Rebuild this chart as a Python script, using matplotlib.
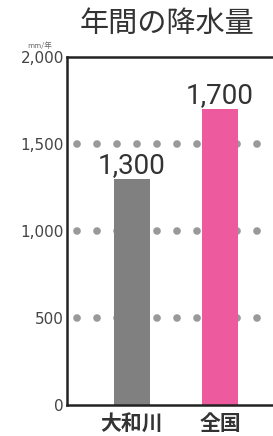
import matplotlib
matplotlib.use('Agg')
import matplotlib.pyplot as plt

plt.rcParams['font.family'] = ['Noto Sans CJK JP', 'DejaVu Sans']
plt.rcParams['lines.scale_dashes'] = False

# データ
basyo = ['大和川', '全国']
kousui = [1300, 1700]
iro = ['#808080', '#ee5a9e']
yticks = [0, 500, 1000, 1500, 2000]
ylabels = ['0', '500', '1,000', '1,500', '2,000']

fig = plt.figure(figsize=(2.73, 4.36), dpi=100)
ax = fig.add_axes([0.245, 0.0711, 0.755, 0.798])

x = list(range(len(basyo)))

# 点線のグリッド
for yy in yticks[1:-1]:
    ax.axhline(yy, color='#999999', lw=5.5, linestyle=(7.2, (0.05, 14.35)),
               dash_capstyle='round', zorder=1)

ax.bar(x, kousui, width=0.41, color=iro, zorder=2)

for xi, v in zip(x, kousui):
    ax.text(xi, v + 35, f'{v:,}', ha='center', va='baseline', fontsize=20,
            family='Roboto', color='#333333', zorder=3)

ax.set_xlim(-0.74, 1.6)
ax.set_ylim(0, 2000)
ax.set_yticks(yticks)
ax.set_yticklabels(ylabels, family='DejaVu Sans', fontsize=11, color='#444444')
ax.set_xticks(x)
ax.set_xticklabels(basyo, fontsize=15, fontweight='bold', color='#333333')
ax.tick_params(axis='both', length=0)
ax.tick_params(axis='y', pad=2)
ax.tick_params(axis='x', pad=6)

ax.spines['right'].set_visible(False)
for s in ['left', 'top', 'bottom']:
    ax.spines[s].set_linewidth(1.8)
    ax.spines[s].set_color('#222222')

fig.text(0.145, 0.885, 'mm/年', fontsize=5.5, color='#666666', ha='center', va='bottom')
fig.text(0.612, 0.945, '年間の降水量', fontsize=21, color='#333333', ha='center', va='center')

fig.savefig('out.png', dpi=100)
